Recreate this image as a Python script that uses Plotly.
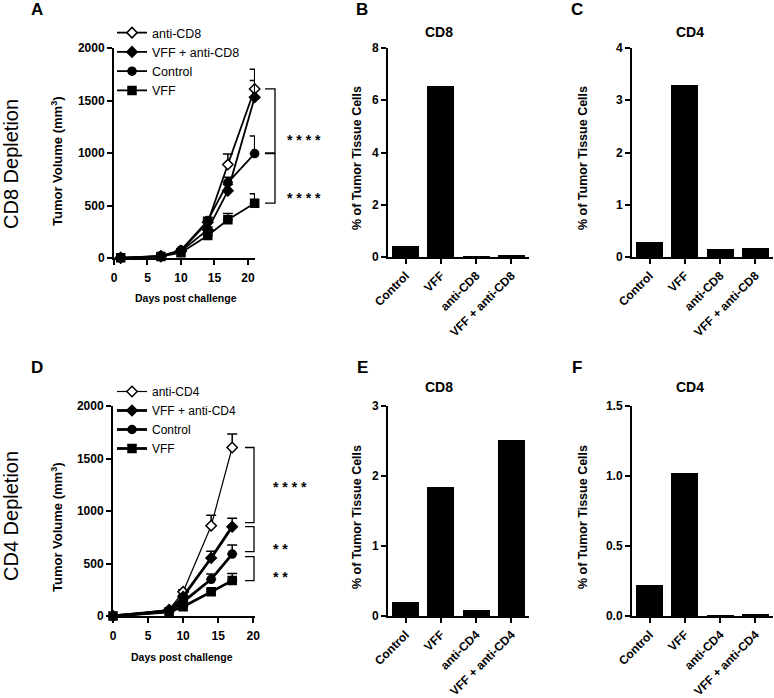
import plotly.graph_objects as go

W, H = 774, 698
FONT = "Liberation Sans"

# ---------------- data ----------------
days_cd8 = [1, 7, 10, 14, 17, 21]
cd8_anti = [2, 15, 70, 340, 890, 1610]
cd8_anti_err = [0, 5, 10, 30, 100, 187]
cd8_vff_anti = [2, 18, 65, 270, 640, 1530]
cd8_vff_anti_err = [0, 5, 10, 25, 60, 160]
cd8_control = [2, 20, 75, 357, 718, 995]
cd8_control_err = [0, 5, 10, 30, 50, 166]
cd8_vff = [2, 15, 50, 215, 364, 522]
cd8_vff_err = [0, 5, 8, 25, 60, 90]

days_cd4 = [0, 8, 10, 14, 17]
cd4_anti = [0, 60, 230, 860, 1605]
cd4_anti_err = [0, 8, 20, 100, 128]
cd4_vff_anti = [0, 50, 184, 552, 851]
cd4_vff_anti_err = [0, 8, 15, 65, 80]
cd4_control = [0, 45, 135, 349, 590]
cd4_control_err = [0, 6, 12, 50, 86]
cd4_vff = [0, 40, 89, 232, 337]
cd4_vff_err = [0, 5, 10, 22, 68]

bar_cats_cd8dep = ["Control", "VFF", "anti-CD8", "VFF + anti-CD8"]
b_cd8 = [0.41, 6.54, 0.02, 0.08]
c_cd4 = [0.28, 3.30, 0.153, 0.178]
bar_cats_cd4dep = ["Control", "VFF", "anti-CD4", "VFF + anti-CD4"]
e_cd8 = [0.20, 1.84, 0.09, 2.51]
f_cd4 = [0.219, 1.023, 0.004, 0.017]

# significance brackets (value ranges) and stars
brackets_a = [(1000, 1610), (522, 995)]
stars_a = [("* * * *", 1150), ("* * * *", 600)]
brackets_d = [(889, 1605), (613, 851), (336, 565)]
stars_d = [("* * * *", 1257), ("* *", 667), ("* *", 400)]


def xd(a, b):
    return [a / W, b / W]


def yd(top, bottom):
    return [1 - bottom / H, 1 - top / H]


def px(x):
    return x / W


def py(y):
    return 1 - y / H


fig = go.Figure()

err_style = dict(type="data", symmetric=False, color="black", thickness=1.5, width=5)


def add_line(x, y, err, name, symbol_fill, symbol, size, lw, xa, ya, legend):
    fig.add_trace(go.Scatter(
        x=x, y=y, name=name, mode="lines+markers",
        line=dict(color="black", width=lw),
        marker=dict(symbol=symbol, size=size, color=symbol_fill,
                    line=dict(color="black", width=1.5)),
        error_y=dict(array=err, arrayminus=[0] * len(err), **err_style),
        cliponaxis=False, xaxis=xa, yaxis=ya, legend=legend,
    ))


# Panel A
add_line(days_cd8, cd8_anti, cd8_anti_err, "anti-CD8", "white", "diamond", 8, 1.8, "x", "y", "legend")
add_line(days_cd8, cd8_vff_anti, cd8_vff_anti_err, "VFF + anti-CD8", "black", "diamond", 8, 1.8, "x", "y", "legend")
add_line(days_cd8, cd8_control, cd8_control_err, "Control", "black", "circle", 8, 1.8, "x", "y", "legend")
add_line(days_cd8, cd8_vff, cd8_vff_err, "VFF", "black", "square", 8, 1.8, "x", "y", "legend")

# Panel D
add_line(days_cd4, cd4_anti, cd4_anti_err, "anti-CD4", "white", "diamond", 8, 1.2, "x4", "y4", "legend2")
add_line(days_cd4, cd4_vff_anti, cd4_vff_anti_err, "VFF + anti-CD4", "black", "diamond", 8, 2.8, "x4", "y4", "legend2")
add_line(days_cd4, cd4_control, cd4_control_err, "Control", "black", "circle", 8, 2.8, "x4", "y4", "legend2")
add_line(days_cd4, cd4_vff, cd4_vff_err, "VFF", "black", "square", 8, 2.8, "x4", "y4", "legend2")

# Bars
for cats, vals, xa, ya in [(bar_cats_cd8dep, b_cd8, "x2", "y2"),
                           (bar_cats_cd8dep, c_cd4, "x3", "y3"),
                           (bar_cats_cd4dep, e_cd8, "x5", "y5"),
                           (bar_cats_cd4dep, f_cd4, "x6", "y6")]:
    fig.add_trace(go.Bar(x=cats, y=vals, marker=dict(color="black", line=dict(width=0)),
                         width=0.76, showlegend=False, xaxis=xa, yaxis=ya))

tickfont = dict(family=FONT, size=12, color="black", weight="bold")
axis_common = dict(showline=True, linecolor="black", linewidth=2, ticks="outside",
                   ticklen=5, tickwidth=2, tickcolor="black", showgrid=False,
                   zeroline=False, tickfont=tickfont, fixedrange=True, automargin=False)

fig.update_layout(
    template="none",
    width=W, height=H, margin=dict(l=0, r=0, t=0, b=0, pad=0, autoexpand=False),
    paper_bgcolor="white", plot_bgcolor="white",
    font=dict(family=FONT, color="black"),
    bargap=0,
    xaxis=dict(domain=xd(114, 255), range=[0, 21.05], anchor="y", ticklabelstandoff=3,
               tickvals=[0, 5, 10, 15, 20], **axis_common),
    yaxis=dict(domain=yd(48, 258), range=[0, 2000], anchor="x",
               tickvals=[0, 500, 1000, 1500, 2000], **axis_common),
    xaxis4=dict(domain=xd(113, 255), range=[0, 20.25], anchor="y4", ticklabelstandoff=3,
                tickvals=[0, 5, 10, 15, 20], **axis_common),
    yaxis4=dict(domain=yd(406, 616), range=[0, 2000], anchor="x4",
                tickvals=[0, 500, 1000, 1500, 2000], **axis_common),
    xaxis2=dict(domain=xd(388, 529), range=[-0.5, 3.5], anchor="y2", tickangle=-45, **axis_common),
    yaxis2=dict(domain=yd(48, 257), range=[0, 8], anchor="x2",
                tickvals=[0, 2, 4, 6, 8], **axis_common),
    xaxis3=dict(domain=xd(632, 773), range=[-0.5, 3.5], anchor="y3", tickangle=-45, **axis_common),
    yaxis3=dict(domain=yd(48, 257), range=[0, 4], anchor="x3",
                tickvals=[0, 1, 2, 3, 4], **axis_common),
    xaxis5=dict(domain=xd(388, 529), range=[-0.5, 3.5], anchor="y5", tickangle=-45, **axis_common),
    yaxis5=dict(domain=yd(406, 616), range=[0, 3], anchor="x5",
                tickvals=[0, 1, 2, 3], **axis_common),
    xaxis6=dict(domain=xd(632, 773), range=[-0.5, 3.5], anchor="y6", tickangle=-45, **axis_common),
    yaxis6=dict(domain=yd(406, 616), range=[0, 1.5], anchor="x6",
                tickvals=[0, 0.5, 1.0, 1.5], ticktext=["0.0", "0.5", "1.0", "1.5"], **axis_common),
    legend=dict(x=px(112), y=py(18), xanchor="left", yanchor="top",
                bgcolor="rgba(0,0,0,0)", borderwidth=0,
                font=dict(family=FONT, size=12.5, color="black"),
                itemwidth=30, tracegroupgap=0),
    legend2=dict(x=px(112), y=py(377), xanchor="left", yanchor="top",
                 bgcolor="rgba(0,0,0,0)", borderwidth=0,
                 font=dict(family=FONT, size=12, color="black"),
                 itemwidth=30, tracegroupgap=0),
)

ann = []


def text(x, y, s, size, bold=False, angle=0, xanchor="center", yanchor="middle"):
    ann.append(dict(x=px(x), y=py(y), xref="paper", yref="paper", text=s, showarrow=False,
                    textangle=angle, xanchor=xanchor, yanchor=yanchor,
                    font=dict(family=FONT, size=size, color="black",
                              weight="bold" if bold else "normal")))


# panel letters
for letter, x, y in [("A", 37, 10), ("B", 362, 10), ("C", 577, 10),
                     ("D", 37, 368), ("E", 362, 368), ("F", 577, 368)]:
    text(x, y, letter, 17, bold=True)

# bar titles
text(439, 32, "CD8", 14, bold=True)
text(690, 32, "CD4", 14, bold=True)
text(439, 387, "CD8", 14, bold=True)
text(690, 387, "CD4", 14, bold=True)

# y titles
text(57, 161, "Tumor Volume (mm<sup>3</sup>)", 13, bold=True, angle=-90)
text(57, 527, "Tumor Volume (mm<sup>3</sup>)", 13, bold=True, angle=-90)
text(357, 158, "% of Tumor Tissue Cells", 12.5, bold=True, angle=-90)
text(583, 158, "% of Tumor Tissue Cells", 12.5, bold=True, angle=-90)
text(357, 517, "% of Tumor Tissue Cells", 12.5, bold=True, angle=-90)
text(583, 517, "% of Tumor Tissue Cells", 12.5, bold=True, angle=-90)

# x titles
text(186, 298, "Days post challenge", 10.5, bold=True)
text(182, 657, "Days post challenge", 10.5, bold=True)

# row labels
text(11, 164, "CD8 Depletion", 20, angle=-90)
text(11, 516, "CD4 Depletion", 20, angle=-90)

# stars
for s, v in stars_a:
    ann.append(dict(x=(285 - 114) / 141, y=v, xref="x domain", yref="y", text=s, showarrow=False,
                    xanchor="left", yanchor="middle", yshift=-3,
                    font=dict(family=FONT, size=14, color="black", weight="bold")))
for s, v in stars_d:
    ann.append(dict(x=(271 - 113) / 142, y=v, xref="x4 domain", yref="y4", text=s, showarrow=False,
                    xanchor="left", yanchor="middle", yshift=-3,
                    font=dict(family=FONT, size=14, color="black", weight="bold")))

fig.update_layout(annotations=ann)

# brackets
shapes = []


def bracket(xref, yref, xv, xt, lo, hi, ymax):
    path = f"M {xt} {lo / ymax} L {xv} {lo / ymax} L {xv} {hi / ymax} L {xt} {hi / ymax}"
    shapes.append(dict(type="path", path=path, xref=xref, yref=yref,
                       line=dict(color="black", width=1.3)))


for lo, hi in brackets_a:
    bracket("x domain", "y domain", (275 - 114) / 141, (265 - 114) / 141, lo, hi, 2000)
for lo, hi in brackets_d:
    bracket("x4 domain", "y4 domain", (254 - 113) / 142, (245 - 113) / 142, lo, hi, 2000)

fig.update_layout(shapes=shapes)

fig.write_html("out.html", config={"displayModeBar": False, "staticPlot": True},
               post_script="document.body.style.margin='0';document.body.style.overflow='hidden';")
